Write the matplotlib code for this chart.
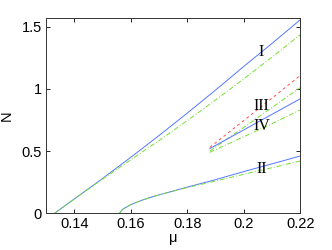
import numpy as np
import matplotlib.pyplot as plt

# branch I
mu_I = [0.133, 0.14, 0.15, 0.16, 0.17, 0.18, 0.19, 0.20, 0.21, 0.22]
N_I = [0.0, 0.115, 0.28, 0.45, 0.625, 0.805, 0.99, 1.18, 1.365, 1.555]
N_I_approx = [0.0, 0.115, 0.275, 0.43, 0.585, 0.745, 0.91, 1.08, 1.255, 1.435]

# branch II
mu_II = [0.156, 0.157, 0.16, 0.164, 0.168, 0.172, 0.176, 0.18, 0.19, 0.20, 0.21, 0.22]
N_II = [0.0, 0.03, 0.07, 0.105, 0.135, 0.16, 0.185, 0.21, 0.27, 0.335, 0.397, 0.46]
N_II_approx = [0.0, 0.03, 0.07, 0.105, 0.135, 0.16, 0.184, 0.206, 0.259, 0.313, 0.366, 0.42]

# branches III and IV
mu_III = [0.188, 0.20, 0.21, 0.22]
N_III = [0.53, 0.745, 0.925, 1.107]
N_III_approx = [0.50, 0.69, 0.85, 1.01]
N_IV = [0.52, 0.67, 0.795, 0.92]
N_IV_approx = [0.49, 0.615, 0.72, 0.83]

labels = ['I', 'II', 'III', 'IV']
label_pos = [(0.2063, 1.30), (0.2063, 0.357), (0.2063, 0.86), (0.2063, 0.70)]

xticks = [0.14, 0.16, 0.18, 0.2, 0.22]
yticks = [0, 0.5, 1, 1.5]

blue = '#5577ff'
green = '#77dd33'
red = '#ff5050'

plt.rcParams['font.family'] = ['Liberation Sans', 'DejaVu Sans']
fig = plt.figure(figsize=(3.32, 2.5), dpi=100)
ax = fig.add_axes([0.139, 0.147, 0.765, 0.781])

ax.plot(mu_I, N_I, color=blue, lw=0.7)
ax.plot(mu_I, N_I_approx, color=green, lw=0.7, ls=(0, (5, 2, 1, 2)))
ax.plot(mu_II, N_II, color=blue, lw=0.7)
ax.plot(mu_II, N_II_approx, color=green, lw=0.7, ls=(0, (5, 2, 1, 2)))
ax.plot(mu_III, N_III, color=red, lw=0.7, ls=(0, (3, 3)))
ax.plot(mu_III, N_III_approx, color=green, lw=0.7, ls=(0, (5, 2, 1, 2)))
ax.plot(mu_III, N_IV, color=blue, lw=0.7)
ax.plot(mu_III, N_IV_approx, color=green, lw=0.7, ls=(0, (5, 2, 1, 2)))

for lab, (x, y) in zip(labels, label_pos):
    ax.text(x, y, lab, family='Liberation Serif', fontsize=11.5, ha='center', va='center')

ax.set_xlim(0.13, 0.22)
ax.set_ylim(0, 1.57)
ax.set_xticks(xticks)
ax.set_xticklabels(['0.14', '0.16', '0.18', '0.2', '0.22'])
ax.set_yticks(yticks)
ax.set_yticklabels(['0', '0.5', '1', '1.5'])
ax.tick_params(direction='in', length=3, width=0.6, labelsize=10.5, top=True, right=True, pad=3)
for s in ax.spines.values():
    s.set_linewidth(0.7)
    s.set_color('#333333')
ax.set_xlabel('μ', fontsize=10.5, labelpad=0)
ax.set_ylabel('N', fontsize=10.5, labelpad=6)

fig.savefig('out.png', dpi=100)
